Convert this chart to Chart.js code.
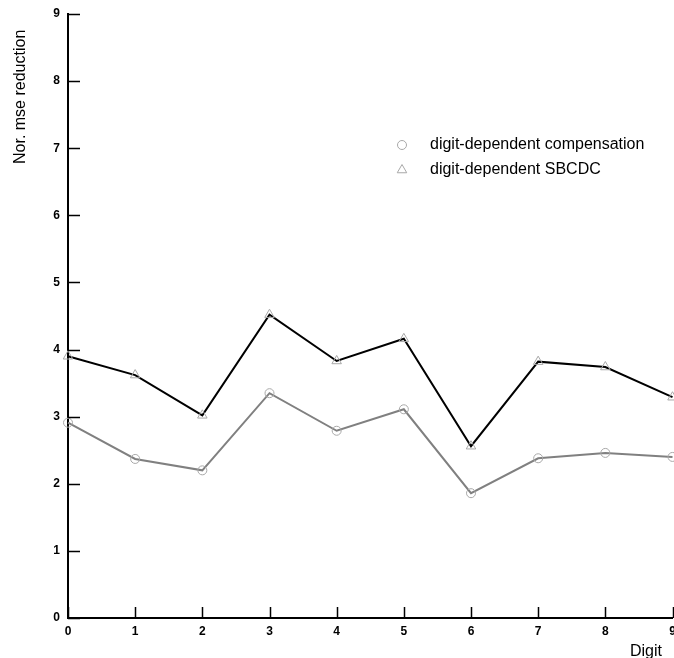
<!DOCTYPE html>
<html>
<head>
<meta charset="utf-8">
<script src="https://cdn.jsdelivr.net/npm/chart.js@4/dist/chart.umd.min.js"></script>
<style>
  html, body { margin: 0; padding: 0; background: #fff; overflow: hidden; }
  #wrap { position: relative; width: 674px; height: 658px; overflow: hidden; }
</style>
</head>
<body>
<div id="wrap"><canvas id="chart" width="679" height="658"></canvas></div>
<script>
// Werte
const digits = ["0", "1", "2", "3", "4", "5", "6", "7", "8", "9"];
const compensation = [2.91, 2.37, 2.20, 3.35, 2.79, 3.11, 1.86, 2.38, 2.46, 2.40];
const sbcdc = [3.90, 3.62, 3.02, 4.52, 3.83, 4.16, 2.56, 3.82, 3.74, 3.29];
const seriesNames = ["digit-dependent compensation", "digit-dependent SBCDC"];
const yTicks = [0, 1, 2, 3, 4, 5, 6, 7, 8, 9];
const xTitle = "Digit";
const yTitle = "Nor. mse reduction";

const FONT = "'Liberation Sans', Arial, Helvetica, sans-serif";
const markerColor = "#a8a8a8";

// Ticks nach innen, Achsentitel und Legende im Diagramm
const decorPlugin = {
    id: "decor",
    afterDraw(chart) {
        const ctx = chart.ctx;
        const area = chart.chartArea;
        const xs = chart.scales.x;
        const ys = chart.scales.y;
        ctx.save();
        ctx.strokeStyle = "#000";
        ctx.lineWidth = 1.5;
        ctx.beginPath();
        yTicks.forEach(v => {
            const py = Math.round(ys.getPixelForValue(v)) + 0.5;
            ctx.moveTo(area.left, py);
            ctx.lineTo(area.left + 12, py);
        });
        digits.forEach((d, i) => {
            const px = Math.round(xs.getPixelForValue(i)) + 0.5;
            ctx.moveTo(px, area.bottom);
            ctx.lineTo(px, area.bottom - 11);
        });
        ctx.stroke();

        // Achsentitel
        ctx.fillStyle = "#000";
        ctx.font = "16px " + FONT;
        ctx.textAlign = "left";
        ctx.textBaseline = "alphabetic";
        ctx.fillText(xTitle, 630, 656);

        ctx.translate(25, 164);
        ctx.rotate(-Math.PI / 2);
        ctx.font = "16px " + FONT;
        ctx.fillText(yTitle, 0, 0);
        ctx.restore();

        // Legende
        ctx.save();
        const rows = [145, 170];
        chart.data.datasets.forEach((ds, i) => {
            ctx.strokeStyle = markerColor;
            ctx.fillStyle = "rgba(0,0,0,0)";
            ctx.lineWidth = 1;
            Chart.helpers.drawPoint(ctx, {
                pointStyle: ds.pointStyle,
                radius: ds.pointRadius,
                borderWidth: 1,
                rotation: 0
            }, 402, rows[i]);
            ctx.fillStyle = "#000";
            ctx.font = "16px " + FONT;
            ctx.textAlign = "left";
            ctx.textBaseline = "middle";
            ctx.fillText(seriesNames[i], 430, rows[i]);
        });
        ctx.restore();
    }
};

const ctx = document.getElementById("chart").getContext("2d");
new Chart(ctx, {
    type: "line",
    data: {
        labels: digits,
        datasets: [{
            label: seriesNames[0],
            data: compensation,
            borderColor: "#808080",
            borderWidth: 2,
            pointStyle: "circle",
            pointRadius: 4.5,
            pointBorderColor: markerColor,
            pointBackgroundColor: "rgba(0,0,0,0)",
            pointBorderWidth: 1,
            tension: 0,
            clip: false
        }, {
            label: seriesNames[1],
            data: sbcdc,
            borderColor: "#000",
            borderWidth: 2,
            pointStyle: "triangle",
            pointRadius: 5.5,
            pointBorderColor: markerColor,
            pointBackgroundColor: "rgba(0,0,0,0)",
            pointBorderWidth: 1,
            tension: 0,
            clip: false
        }]
    },
    options: {
        responsive: false,
        animation: false,
        events: [],
        layout: { padding: { top: 14, right: 1, left: 0, bottom: 0 } },
        plugins: {
            legend: { display: false },
            tooltip: { enabled: false },
            title: { display: false }
        },
        scales: {
            x: {
                type: "category",
                offset: false,
                grid: { display: false, drawTicks: false },
                border: { display: true, color: "#000", width: 2 },
                ticks: {
                    color: "#000",
                    padding: 6,
                    maxRotation: 0,
                    autoSkip: false,
                    font: { family: FONT, size: 12, weight: "bold" }
                },
                afterFit(scale) {
                    scale.height = 40;
                    scale.paddingLeft = 0;
                    scale.paddingRight = 0;
                }
            },
            y: {
                type: "linear",
                min: 0,
                max: 9,
                grid: { display: false, drawTicks: false },
                border: { display: true, color: "#000", width: 2 },
                ticks: {
                    stepSize: 1,
                    color: "#000",
                    padding: 8,
                    font: { family: FONT, size: 12, weight: "bold" }
                },
                afterFit(scale) {
                    scale.width = 68;
                    scale.paddingTop = 0;
                    scale.paddingBottom = 0;
                }
            }
        }
    },
    plugins: [decorPlugin]
});
</script>
</body>
</html>
